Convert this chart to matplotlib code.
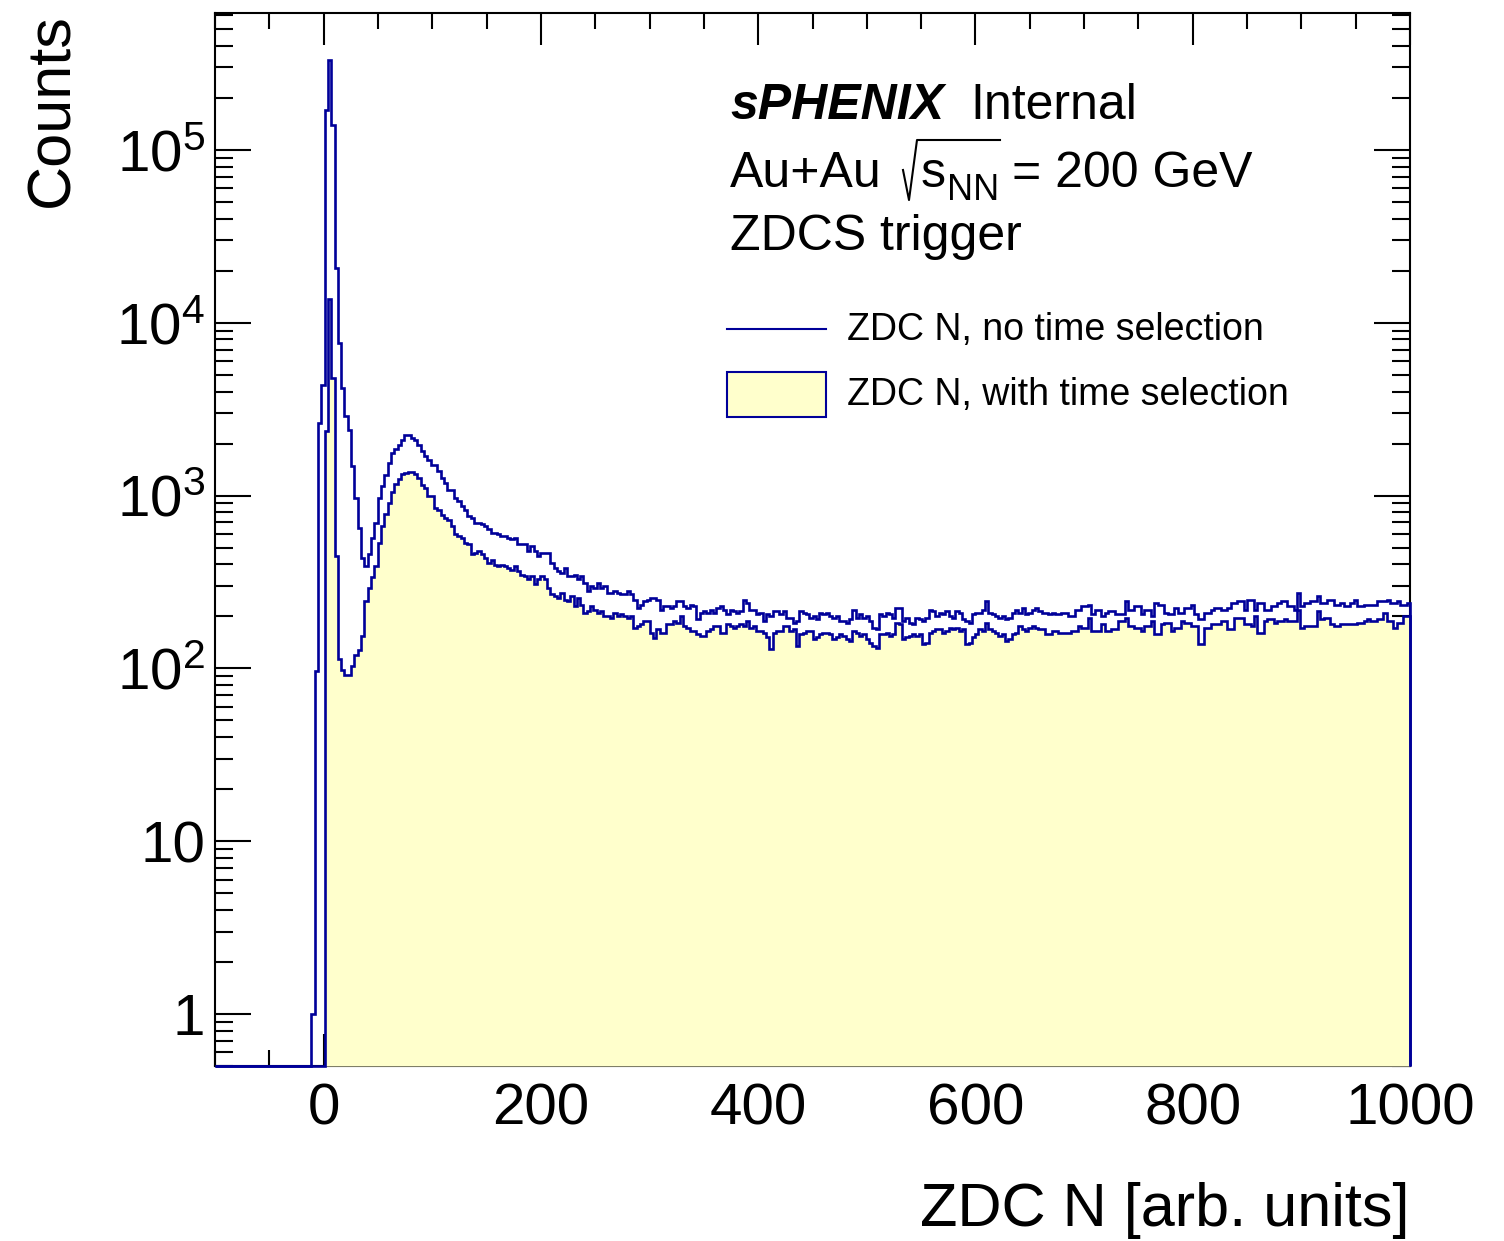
import numpy as np
import matplotlib
matplotlib.use('Agg')
import matplotlib.pyplot as plt
from matplotlib.ticker import FixedLocator, MultipleLocator, LogLocator, NullFormatter
from matplotlib.patches import Rectangle
from matplotlib.lines import Line2D

plt.rcParams['font.family'] = ['Liberation Sans', 'DejaVu Sans']
plt.rcParams['mathtext.fontset'] = 'custom'
plt.rcParams['mathtext.rm'] = 'Liberation Sans'
plt.rcParams['mathtext.it'] = 'Liberation Sans:italic'
plt.rcParams['mathtext.bf'] = 'Liberation Sans:bold'

# Binning of both histograms
x_lo, x_hi, n_bins = -100, 1000, 360

# ZDC N, no time selection (bins before first_all are empty)
first_all = 29
counts_all = [
    1, 97, 2630, 4390, 170000, 330000, 139000, 20700, 7640, 4190,
    2900, 2410, 1479, 970, 650, 436, 390, 456, 570, 695,
    962, 1132, 1322, 1545, 1765, 1862, 1972, 2090, 2240, 2255,
    2155, 2090, 1972, 1805,
    1688, 1614, 1511, 1511, 1383, 1265, 1184, 1083, 1083, 970,
    928, 868, 830, 760, 743, 695, 695, 680, 665, 637,
    609, 609, 596, 583, 583, 570, 557, 570, 521, 521,
    521, 477, 510, 477, 446, 466, 466, 466, 408, 382,
    365, 357, 382, 341, 341, 349, 327, 341, 313, 280,
    299, 292, 313, 292, 299, 274, 274, 280, 274, 268,
    268, 280, 268, 250, 224, 234, 245, 250, 256, 256,
    250,
    219, 229, 229, 224, 229, 245, 245, 229, 224,
    234, 229, 192, 210, 214, 210, 219, 210, 224, 229,
    219, 205, 219, 214, 210, 214, 250, 240, 219, 219,
    205, 210, 188, 205, 201, 214, 214, 205, 214, 196,
    196, 184, 188, 214, 210, 205, 196, 201, 192, 210,
    205, 210, 201, 196, 201, 188, 188, 184, 192, 219,
    196, 205, 196, 201, 188, 172, 168, 205, 201, 210,
    205, 196, 224, 224, 188, 196, 184, 180, 196, 192,
    188, 196, 219, 214, 201, 210, 205, 214, 201, 196,
    214, 210, 192, 188, 184, 205, 210, 210, 219, 245,
    210, 205, 201, 196, 201, 192, 196, 210, 219, 210,
    224, 205, 210, 219, 224,
    214, 210, 210, 205, 210, 205, 205, 210, 210, 201,
    201, 219, 219, 229, 229, 234, 205, 219, 219, 201,
    210, 214, 214, 205, 205, 205, 245, 219, 219, 229,
    229, 205, 219, 219, 201, 240, 234, 234, 210, 205,
    205, 224, 210, 210, 224, 224, 234, 205, 192, 192,
    210, 210, 219, 224, 224, 219, 219, 224, 240, 240,
    245, 245, 219, 250, 250, 219, 240, 240, 219, 219,
    229, 229, 240, 245, 245, 229, 229, 219, 273, 229,
    240, 240, 245, 245, 261, 240, 240, 250, 250, 234,
    234, 240, 229, 229, 240, 250, 229, 229, 234, 234,
    234, 234, 245, 245, 245, 250, 240, 240, 245, 234,
    234, 238,
]

# ZDC N, with time selection
first_timed = 33
counts_timed = [
    2350, 13700, 4790, 447, 113, 98, 92, 91, 103, 120,
    128, 154, 245, 290, 340, 390, 533, 665, 787, 908,
    1045, 1167, 1240, 1325, 1355, 1365, 1365, 1325, 1270, 1158,
    1107, 991, 991, 849, 830, 776, 743, 726, 665, 596,
    583, 570, 533, 521, 456, 466, 477, 456, 436, 408,
    426, 399, 390, 399, 390, 382, 373, 390, 365, 349,
    341, 327, 341, 306, 327, 341, 327, 292, 268, 262,
    256, 274, 250, 245, 262, 229, 256, 234, 210, 214,
    229, 219, 210, 214, 201, 201, 196, 210, 201, 205,
    201, 196, 201, 172, 176, 180, 188, 188, 161, 150,
    168, 161, 161, 180, 180, 188, 184, 201, 176, 172,
    165, 165, 158, 154, 154, 165, 168, 176, 176, 161,
    161, 180, 176, 172, 176, 180, 176, 188, 172, 176,
    165, 165, 161, 151, 129, 161, 165, 165, 176, 176,
    165, 168, 135, 158, 161, 165, 165, 147, 151, 158,
    161, 161, 158, 147, 151, 158, 154, 147, 144, 165,
    161, 154, 158, 147, 141, 135, 132, 158, 158, 161,
    154, 158, 184, 180, 147, 151, 154, 158, 154, 158,
    138, 141, 161, 165, 168, 168, 161, 165, 172, 168,
    172, 165, 168, 138, 141, 151, 158, 168, 165, 184,
    168, 165, 161, 154, 158, 144, 147, 158, 161, 176,
    168, 165, 172, 176, 172,
    168, 168, 158, 158, 165, 165, 161, 161, 161, 161,
    165, 165, 176, 172, 172, 196, 165, 165, 165, 180,
    165, 165, 168, 168, 188, 188, 196, 176, 176, 172,
    172, 165, 176, 176, 188, 158, 158, 180, 184, 184,
    165, 172, 172, 188, 184, 184, 176, 176, 138, 138,
    172, 172, 180, 180, 180, 188, 188, 168, 168, 196,
    196, 196, 180, 180, 176, 201, 161, 161, 188, 192,
    192, 184, 188, 188, 192, 188, 188, 188, 219, 172,
    176, 176, 176, 176, 214, 192, 196, 196, 180, 176,
    176, 180, 180, 180, 180, 180, 184, 184, 188, 192,
    188, 188, 192, 192, 210, 188, 188, 172, 184, 184,
    201, 201,
]

x_tick_vals = [0, 200, 400, 600, 800, 1000]
y_tick_vals = [1, 10, 100, 1e3, 1e4, 1e5]
y_tick_labels = ['1', '10', r'$10^{2}$', r'$10^{3}$', r'$10^{4}$', r'$10^{5}$']

line_color = '#000099'
fill_color = '#ffffcc'
ymin, ymax = 0.5, 6.2e5
lw = 1.9


def full_hist(first, vals):
    h = np.zeros(n_bins)
    h[first:first + len(vals)] = vals
    # empty bins sit on the frame bottom, like ROOT draws them
    return np.where(h > 0, h, ymin)


edges = np.linspace(x_lo, x_hi, n_bins + 1)
h_all = full_hist(first_all, counts_all)
h_timed = full_hist(first_timed, counts_timed)

fig = plt.figure(figsize=(15.04, 12.41), dpi=100)
ax = fig.add_axes([215 / 1504, 1 - 1066 / 1241, 1195 / 1504, 1053 / 1241])

ax.stairs(h_timed, edges, baseline=ymin, fill=True, facecolor=fill_color,
          edgecolor=line_color, linewidth=lw, zorder=3, clip_on=False)
ax.stairs(h_all, edges, baseline=ymin, fill=False, edgecolor=line_color,
          linewidth=lw, zorder=3.1, clip_on=False)

ax.set_yscale('log')
ax.set_xlim(x_lo, x_hi)
ax.set_ylim(ymin, ymax)

ax.xaxis.set_major_locator(FixedLocator(x_tick_vals))
ax.xaxis.set_minor_locator(MultipleLocator(50))
ax.yaxis.set_major_locator(FixedLocator(y_tick_vals))
ax.set_yticklabels(y_tick_labels)
ax.yaxis.set_minor_locator(LogLocator(base=10, subs=np.arange(2, 10)))
ax.yaxis.set_minor_formatter(NullFormatter())

for sp in ax.spines.values():
    sp.set_linewidth(1.5)
ax.tick_params(which='both', direction='in', top=True, right=True, width=1.5)
ax.tick_params(axis='x', which='major', length=22.7, labelsize=42, pad=12)
ax.tick_params(axis='x', which='minor', length=11.4)
ax.tick_params(axis='y', which='major', length=25.8, labelsize=42, pad=7)
ax.tick_params(axis='y', which='minor', length=12.9)

# axis titles, ROOT style (right / top aligned)
fig.text(1410 / 1504, 1 - 1226 / 1241, 'ZDC N [arb. units]', ha='right',
         va='baseline', fontsize=44)
fig.text(68 / 1504, 1 - 13 / 1241, 'Counts', rotation=90, rotation_mode='anchor',
         ha='right', va='baseline', fontsize=44)


def ax_x(px):
    return (px - 215) / 1195


def ax_y(py):
    return (1066 - py) / 1053


tr = ax.transAxes
ax.text(ax_x(730), ax_y(119), 'sPHENIX', transform=tr, fontsize=36,
        fontweight='bold', fontstyle='italic')
ax.text(ax_x(970), ax_y(119), 'Internal', transform=tr, fontsize=36)

# Au+Au sqrt(s_NN) = 200 GeV, pieced together so the root sign stays narrow
ax.text(ax_x(730), ax_y(187), 'Au+Au', transform=tr, fontsize=36)
ax.add_line(Line2D([ax_x(p) for p in (903, 909, 917, 1000)],
                   [ax_y(p) for p in (170, 200, 140, 140)],
                   transform=tr, color='black', linewidth=1.5))
ax.text(ax_x(921), ax_y(187), 's', transform=tr, fontsize=36)
ax.text(ax_x(947), ax_y(200), 'NN', transform=tr, fontsize=26)
ax.text(ax_x(1012), ax_y(187), '= 200 GeV', transform=tr, fontsize=36)

ax.text(ax_x(730), ax_y(250), 'ZDCS trigger', transform=tr, fontsize=36)

# legend drawn by hand
ax.add_line(Line2D([ax_x(727), ax_x(826)], [ax_y(329), ax_y(329)], transform=tr,
                   color=line_color, linewidth=1.5))
ax.add_patch(Rectangle((ax_x(727), ax_y(417)), ax_x(826) - ax_x(727),
                       ax_y(372) - ax_y(417), transform=tr, facecolor=fill_color,
                       edgecolor=line_color, linewidth=1.5))
ax.text(ax_x(847), ax_y(330), 'ZDC N, no time selection', transform=tr,
        fontsize=27, va='center')
ax.text(ax_x(847), ax_y(395), 'ZDC N, with time selection', transform=tr,
        fontsize=27, va='center')

fig.savefig('out.png', dpi=100)
